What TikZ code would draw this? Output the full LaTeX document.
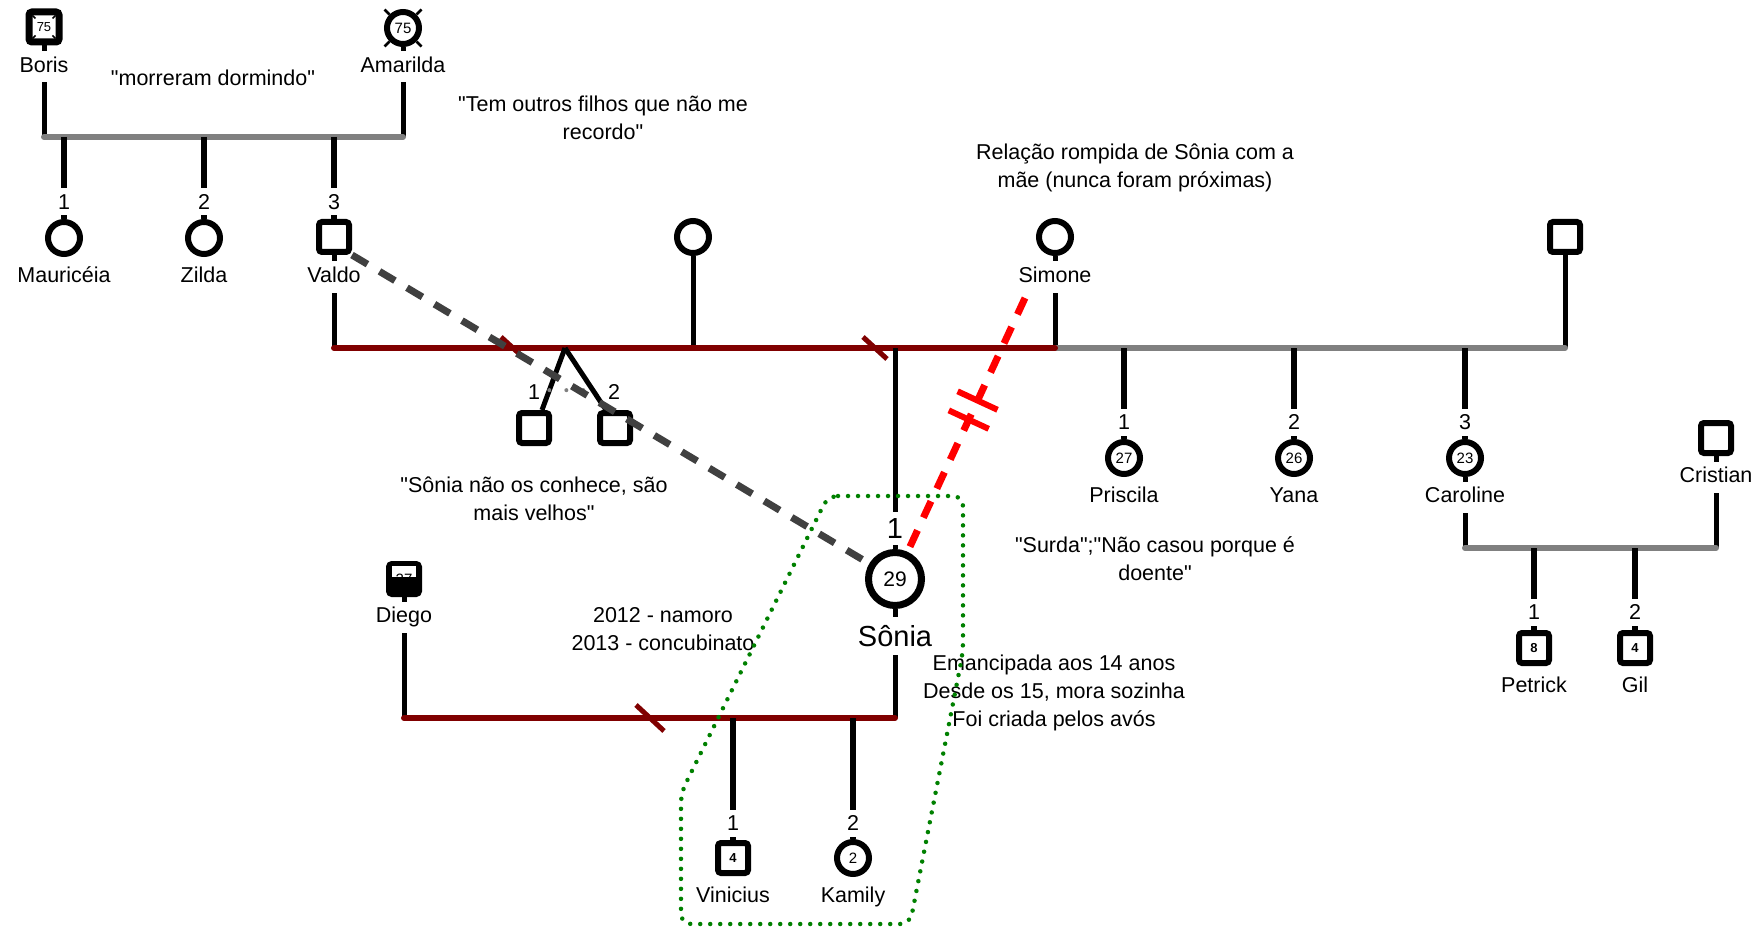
\documentclass[tikz,border=0pt]{standalone}
\usepackage{fontspec}
\setmainfont{Liberation Sans}[Ligatures=TeXOff]
\usetikzlibrary{calc,backgrounds,decorations.markings}
\definecolor{dred}{HTML}{800000}
\definecolor{lgrey}{HTML}{808080}
\definecolor{dgrey}{HTML}{404040}
\definecolor{dgreen}{HTML}{008000}
\definecolor{bred}{HTML}{FF0000}
\begin{document}
\begin{tikzpicture}[x=1pt,y=-1pt,
  txt/.style={font=\fontsize{21.5}{28}\selectfont, align=center, inner sep=0pt},
  namelab/.style={font=\fontsize{21.5}{28}\selectfont, fill=white, inner xsep=1pt, inner ysep=6pt, text height=15pt, text depth=4pt},
  numlab/.style={font=\fontsize{21.5}{28}\selectfont, fill=white, inner xsep=1pt, inner ysep=6pt, text height=15pt, text depth=0pt},
  msym/.style={draw, line width=6pt, fill=white, rounded corners=3pt, rectangle, minimum size=30pt, inner sep=0pt, font=\fontsize{13}{13}\selectfont\bfseries},
  fsym/.style={draw, line width=6pt, fill=white, circle, minimum size=32pt, inner sep=0pt, font=\fontsize{15}{15}\selectfont},
  childln/.style={line width=6pt},
  parln/.style={line width=5pt},
  greybar/.style={line width=6pt, lgrey, line cap=round},
  redbar/.style={line width=6pt, dred, line cap=round},
  sepmark/.style={line width=5pt, dred},
]
\useasboundingbox (0,0) rectangle (1762,928);

% ---------- generation 1
\node[msym, line width=7pt, font=\fontsize{13}{13}\selectfont] (boris) at (44,27) {75};
\node[namelab] (borisl) at (44,67) {Boris};
\node[fsym] (amar) at (403,28) {75};
\node[namelab] (amarl) at (403,67) {Amarilda};
\coordinate (b1L) at (44,137);
\coordinate (b1R) at (403,137);
\coordinate (c11) at (64,137);
\coordinate (c12) at (204,137);
\coordinate (c13) at (334,137);
\node[txt] (tmorr) at (213,78) {"morreram dormindo"};
\node[txt] (toutros) at (603,118) {"Tem outros filhos que não me\\recordo"};

% ---------- generation 2
\node[numlab] (n11) at (64,202) {1};
\node[numlab] (n12) at (204,202) {2};
\node[numlab] (n13) at (334,202) {3};
\node[fsym] (maur) at (64,238) {};
\node[fsym] (zilda) at (204,238) {};
\node[msym] (valdo) at (334,237) {};
\node[namelab] (maurl) at (64,277) {Mauricéia};
\node[namelab] (zildal) at (204,277) {Zilda};
\node[namelab] (valdol) at (334,277) {Valdo};
\node[fsym] (w1) at (693,237) {};
\node[fsym] (simone) at (1055,237) {};
\node[namelab] (simonel) at (1055,277) {Simone};
\node[msym] (rman) at (1565,237) {};
\node[txt] (trel) at (1135,168) {Relação rompida de Sônia com a\\mãe (nunca foram próximas)};

\coordinate (m2L) at (334,348);
\coordinate (m2a) at (693,348);
\coordinate (m2R) at (1055,348);
\coordinate (m3R) at (1565,348);
\coordinate (s1) at (513,348);
\coordinate (s2) at (875,348);
\coordinate (tw) at (565,348);
\coordinate (m2s) at (895,348);
\coordinate (pc1) at (1124,348);
\coordinate (pc2) at (1294,348);
\coordinate (pc3) at (1465,348);

% ---------- generation 3
\node[msym] (t1m) at (534,428) {};
\node[msym] (t2m) at (615,428) {};
\node[txt] (tn1) at (534,392) {1};
\node[txt] (tn2) at (614,392) {2};
\node[txt] (tcon) at (534,499) {"Sônia não os conhece, são\\mais velhos"};

\node[circle, draw, line width=7pt, fill=white, minimum size=53pt, inner sep=0pt, font=\fontsize{21}{21}\selectfont] (sonia) at (895,579) {29};
\node[numlab, font=\fontsize{29}{29}\selectfont, text height=21pt, inner ysep=6pt] (sn1) at (895,528) {1};
\node[namelab, font=\fontsize{29}{29}\selectfont, text height=22pt, text depth=2pt, inner ysep=7pt] (soniaL) at (895,636) {Sônia};

\node[numlab] (pn1) at (1124,422) {1};
\node[numlab] (pn2) at (1294,422) {2};
\node[numlab] (pn3) at (1465,422) {3};
\node[fsym] (pris) at (1124,458) {27};
\node[fsym] (yana) at (1294,458) {26};
\node[fsym] (caro) at (1465,458) {23};
\node[namelab] (prisl) at (1124,497) {Priscila};
\node[namelab] (yanal) at (1294,497) {Yana};
\node[namelab] (carol) at (1465,497) {Caroline};
\node[msym] (cris) at (1716,438) {};
\node[namelab] (crisl) at (1716,477) {Cristian};
\node[txt] (tsurda) at (1155,559) {"Surda";"Não casou porque é\\doente"};
\coordinate (m5L) at (1465,548);
\coordinate (m5R) at (1716,548);
\coordinate (pc51) at (1534,548);
\coordinate (pc52) at (1635,548);
\node[numlab] (qn1) at (1534,612) {1};
\node[numlab] (qn2) at (1635,612) {2};
\node[msym] (pet) at (1534,648) {8};
\node[msym] (gil) at (1635,648) {4};
\node[namelab] (petl) at (1534,687) {Petrick};
\node[namelab] (gill) at (1635,687) {Gil};

% Diego
\node[msym, fill=black] (diego) at (404,579) {};
\begin{scope}
  \clip ($(diego)+(-12,-13)$) rectangle ($(diego)+(12,-2)$);
  \fill[white] ($(diego)+(-12,-13)$) rectangle ($(diego)+(12,-2)$);
  \node[font=\fontsize{15}{15}\selectfont, inner sep=0pt] (diegoage) at (diego) {27};
\end{scope}
\node[namelab] (diegol) at (404,617) {Diego};
\node[txt] (tnam) at (663,629) {2012 - namoro\\2013 - concubinato};
\node[txt] (teman) at (1054,693) {Emancipada aos 14 anos\\Desde os 15, mora sozinha\\Foi criada pelos avós};

\coordinate (m4L) at (404,718);
\coordinate (m4R) at (895,718);
\coordinate (s3) at (650,718);
\coordinate (vc1) at (733,718);
\coordinate (vc2) at (853,718);
\node[numlab] (vn1) at (733,823) {1};
\node[numlab] (vn2) at (853,823) {2};
\node[msym] (vin) at (733,858) {4};
\node[fsym] (kam) at (853,858) {2};
\node[namelab] (vinl) at (733,897) {Vinicius};
\node[namelab] (kaml) at (853,897) {Kamily};

% deceased marks
\foreach \sx/\sy in {-1/-1,1/-1,-1/1,1/1}{
  \draw[line width=1.5pt] ($(boris)+(11.5*\sx,11.5*\sy)$) -- ($(boris)+(8.5*\sx,8.5*\sy)$);
  \draw[line width=2.5pt] ($(amar)+(13.5*\sx,13.5*\sy)$) -- ($(amar)+(18.5*\sx,18.5*\sy)$);
}

% ---------- connectors
\begin{pgfonlayer}{background}
\draw[parln] (boris) -- (b1L);
\draw[parln] (amar) -- (b1R);
\draw[greybar] (b1L) -- (b1R);
\draw[childln] (c11) -- (maur);
\draw[childln] (c12) -- (zilda);
\draw[childln] (c13) -- (valdo);
\draw[parln] (valdo) -- (m2L);
\draw[parln] (w1) -- (m2a);
\draw[parln] (simone) -- (m2R);
\draw[parln] (rman) -- (m3R);
\draw[greybar] (m2R) -- (m3R);
\draw[redbar] (m2L) -- (m2R);
\draw[sepmark] ($(s1)+(-12,-11)$) -- ($(s1)+(12,11)$);
\draw[sepmark] ($(s2)+(-12,-11)$) -- ($(s2)+(12,11)$);
\draw[line width=5pt] (tw) -- ([xshift=8pt]t1m.north);
\draw[line width=5pt] (tw) -- ([xshift=-9pt]t2m.north);
\draw[parln] (m2s) -- (sonia);
\draw[parln] (sonia) -- (m4R);
\draw[parln] (diego) -- (m4L);
\draw[redbar] (m4L) -- (m4R);
\draw[sepmark] ($(s3)+(-14,-13)$) -- ($(s3)+(14,13)$);
\draw[childln] (vc1) -- (vin);
\draw[childln] (vc2) -- (kam);
\draw[childln] (pc1) -- (pris);
\draw[childln] (pc2) -- (yana);
\draw[childln] (pc3) -- (caro);
\draw[parln] (caro) -- (m5L);
\draw[parln] (cris) -- (m5R);
\draw[greybar] (m5L) -- (m5R);
\draw[childln] (pc51) -- (pet);
\draw[childln] (pc52) -- (gil);
\end{pgfonlayer}

% twin bar (dotted)
\draw[lgrey, line width=4pt, line cap=round, dash pattern=on 0pt off 17pt]
  ($(tw)!0.68!([xshift=8pt]t1m.north)$) -- ($(tw)!0.68!([xshift=-9pt]t2m.north)$);

% emotional relations
\draw[dgrey, line width=7pt, dash pattern=on 18pt off 14pt] (valdo.south east) -- (sonia);
\coordinate (rdstart) at (1025,298);
\draw[bred, line width=7pt, dash pattern=on 18pt off 14pt, postaction={decorate},
  decoration={markings,
    mark=at position 113pt with {\draw[solid, bred, line width=6pt] (0pt,-22pt) -- (0pt,22pt);},
    mark=at position 134pt with {\draw[solid, bred, line width=6pt] (0pt,-22pt) -- (0pt,22pt);}}]
  (rdstart) -- (sonia);

% household
\coordinate (g1) at (828,496);
\coordinate (g2) at (963,496);
\coordinate (g3) at (963,652);
\coordinate (g4) at (910,924);
\coordinate (g5) at (681,924);
\coordinate (g6) at (681,793);
\draw[dgreen, line width=4.5pt, line cap=round, dash pattern=on 0pt off 10pt, rounded corners=10pt]
  (g1) -- (g2) -- (g3) -- (g4) -- (g5) -- (g6) -- cycle;
\end{tikzpicture}
\end{document}
